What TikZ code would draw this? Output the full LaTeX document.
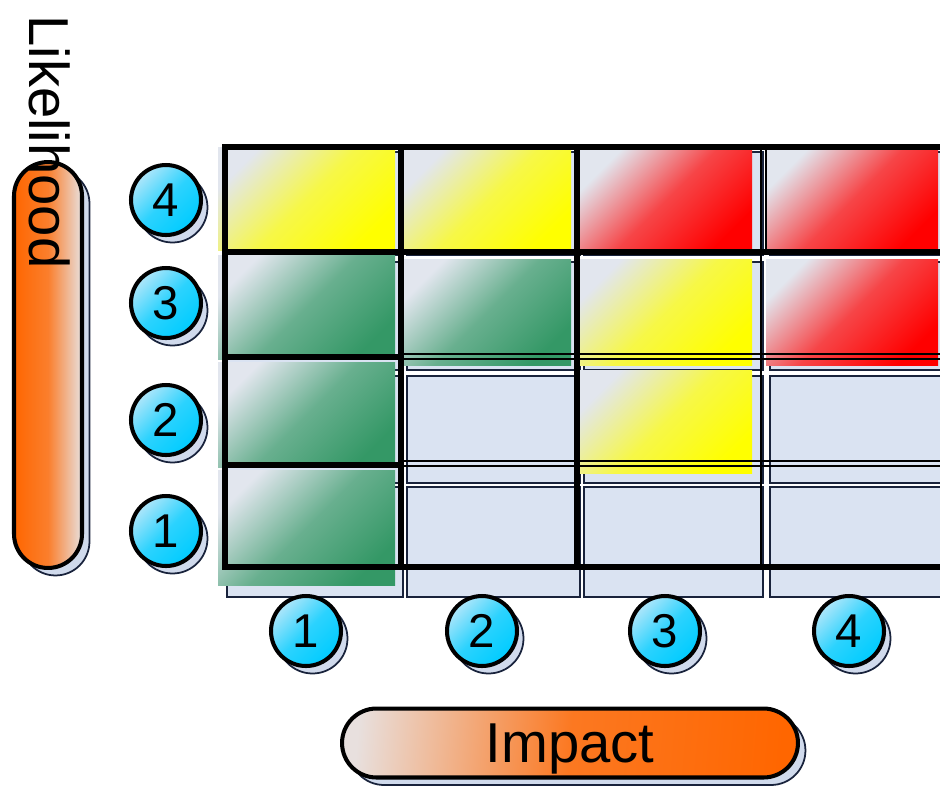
\documentclass[tikz,border=0pt]{standalone}
\usepackage{fontspec}
\setmainfont{Liberation Sans}
\usetikzlibrary{shadows}
\definecolor{ballcyan}{RGB}{0,204,255}
\definecolor{ballhigh}{RGB}{175,230,250}
\definecolor{barorange}{RGB}{255,102,0}
\definecolor{barlight}{RGB}{232,224,222}
\definecolor{cellgreen}{RGB}{52,152,102}
\definecolor{cellred}{RGB}{255,0,0}
\definecolor{cellyellow}{RGB}{255,255,0}
\definecolor{celllight}{RGB}{226,230,238}
\definecolor{gridblue}{RGB}{218,227,242}
\definecolor{gridnavy}{RGB}{25,35,60}
\definecolor{shadowblue}{RGB}{208,218,236}

\begin{document}
\begin{tikzpicture}[x=0.02cm,y=-0.02cm,
  bgcell/.style={fill=gridblue,draw=gridnavy,line width=0.9pt},
  riskcell/.style={top color=celllight,bottom color=#1,middle color=#1!70!celllight,shading angle=45},
  gridline/.style={line width=3.4pt,black},
  thinline/.style={line width=1.1pt,black},
  numball/.style={circle,draw=black,line width=2.3pt,minimum size=1.4cm,inner sep=0pt,
    top color=ballhigh,bottom color=ballcyan,middle color=ballcyan!75!ballhigh,shading angle=45,
    font=\fontsize{27}{27}\selectfont,
    general shadow={fill=shadowblue,draw=gridnavy,line width=1pt,shadow xshift=0.13cm,shadow yshift=-0.15cm}},
  axisbar/.style={draw=black,line width=2.3pt,inner sep=0pt,
    general shadow={fill=shadowblue,draw=gridnavy,line width=1pt,shadow xshift=0.15cm,shadow yshift=-0.15cm}},
  axislabel/.style={inner sep=0pt,font=\fontsize{32}{32}\selectfont}]
  \useasboundingbox (0,0) rectangle (940,789);
  \clip (0,0) rectangle (940,789);

  \foreach \xa/\xb in {227/403,407/580,584/763,770/960}
    \foreach \ya/\yb in {152/255,262/370,376/483,487/597}
      \draw[bgcell] (\xa,\ya) rectangle (\xb,\yb);

  \shade[riskcell=cellyellow] (218,147) rectangle (395,250);
  \shade[riskcell=cellyellow] (404,150) rectangle (571,250);
  \shade[riskcell=cellred] (580,150) rectangle (752,250);
  \shade[riskcell=cellred] (766,150) rectangle (938,250);
  \shade[riskcell=cellgreen] (218,255) rectangle (395,359);
  \shade[riskcell=cellgreen] (404,259) rectangle (571,365);
  \shade[riskcell=cellyellow] (580,259) rectangle (752,365);
  \shade[riskcell=cellred] (766,259) rectangle (938,365);
  \shade[riskcell=cellgreen] (218,362) rectangle (395,467);
  \shade[riskcell=cellyellow] (580,370) rectangle (752,473);
  \shade[riskcell=cellgreen] (218,470) rectangle (395,585);

  \draw[gridline] (222,147) -- (960,147);
  \draw[gridline] (222,252) -- (960,252);
  \draw[gridline] (222,567) -- (960,567);
  \draw[gridline] (222,357) -- (401,357);
  \draw[gridline] (222,465) -- (401,465);
  \draw[thinline] (401,354) -- (960,354) (401,359) -- (960,359);
  \draw[thinline] (401,461) -- (960,461) (401,466) -- (960,466);
  \draw[gridline] (225,145) -- (225,569);
  \draw[gridline] (401,145) -- (401,569);
  \draw[gridline] (577,145) -- (577,569);
  \draw[thinline] (761,147) -- (761,567) (766,147) -- (766,252);

  \node[axisbar,minimum width=1.36cm,minimum height=8.12cm,rounded corners=0.68cm,
    left color=barorange,right color=barlight,middle color=barorange!80!barlight] (likelybar) at (48,365) {};
  \node[axisbar,axislabel,minimum width=9.12cm,minimum height=1.38cm,rounded corners=0.69cm,text depth=0pt,
    top color=barlight,bottom color=barorange,middle color=barorange!85!barlight,shading angle=85] (impactbar) at (570,743) {Impact};
  \node[axislabel,rotate=-90,anchor=base west] (likelytext) at (30,15) {Likelihood};

  \node[numball] (l4) at (166,200) {4};
  \node[numball] (l3) at (166,303) {3};
  \node[numball] (l2) at (166,420) {2};
  \node[numball] (l1) at (166,531) {1};
  \node[numball] (i1) at (306,631) {1};
  \node[numball] (i2) at (482,631) {2};
  \node[numball] (i3) at (665,631) {3};
  \node[numball] (i4) at (849,631) {4};
\end{tikzpicture}
\end{document}
